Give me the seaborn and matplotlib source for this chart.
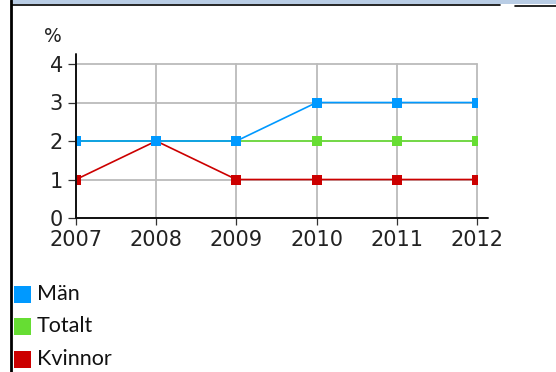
import matplotlib
matplotlib.use("Agg")
import matplotlib.pyplot as plt
from matplotlib.patches import Rectangle
from matplotlib.lines import Line2D
import seaborn as sns
import pandas as pd

years = [2007, 2008, 2009, 2010, 2011, 2012]
man = [2, 2, 2, 3, 3, 3]
totalt = [2, 2, 2, 2, 2, 2]
kvinnor = [1, 2, 1, 1, 1, 1]
y_ticks = [0, 1, 2, 3, 4]

series_names = ["Män", "Totalt", "Kvinnor"]
series_colors = ["#0099FF", "#66DD33", "#CC0000"]
draw_order = ["Totalt", "Kvinnor", "Män"]

df = pd.concat([
    pd.DataFrame({"year": years, "value": man, "group": "Män"}),
    pd.DataFrame({"year": years, "value": totalt, "group": "Totalt"}),
    pd.DataFrame({"year": years, "value": kvinnor, "group": "Kvinnor"}),
], ignore_index=True)

sns.set_style("white")
plt.rcParams["font.family"] = ["DejaVu Sans"]

W, H = 556, 372
fig = plt.figure(figsize=(W / 100, H / 100), dpi=100)

def fx(px):
    return px / W

def fy(py):
    return 1 - py / H

x0, x1, y0, y1 = 76, 477, 218, 64
ax = fig.add_axes([fx(x0), fy(y0), fx(x1 - x0), (y0 - y1) / H])

palette = dict(zip(series_names, series_colors))
sns.lineplot(data=df, x="year", y="value", hue="group", hue_order=draw_order,
             palette=palette, marker="s", markersize=7.5, markeredgewidth=0,
             linewidth=1.2, legend=False, ax=ax)

ax.set_xlim(years[0], years[-1])
ax.set_ylim(y_ticks[0], y_ticks[-1])
ax.set_xticks(years)
ax.set_xticklabels([str(y) for y in years])
ax.set_yticks(y_ticks)
ax.set_yticklabels([str(v) for v in y_ticks])
ax.set_xlabel("")
ax.set_ylabel("")

ax.set_axisbelow(True)
ax.grid(True, color="#BBBBBB", linewidth=1.3)
for gl in ax.get_xgridlines() + ax.get_ygridlines():
    gl.set_clip_on(False)
for sp in ax.spines.values():
    sp.set_visible(False)

ax.tick_params(axis="y", which="major", left=True, length=6, width=0.9,
               color="#333333", pad=3.5, labelsize=15, labelcolor="#222222")
ax.tick_params(axis="x", which="major", bottom=True, length=5, width=0.9,
               color="#333333", pad=4, labelsize=15, labelcolor="#222222")

# axis lines extending beyond the last grid lines
ax.add_line(Line2D([0, 1.028], [0, 0], transform=ax.transAxes, color="#111111",
                   linewidth=1.4, clip_on=False, zorder=5))
ax.add_line(Line2D([0, 0], [0, 1.065], transform=ax.transAxes, color="#111111",
                   linewidth=1.4, clip_on=False, zorder=5))

fig.text(fx(53), fy(36), "%", ha="center", va="center", fontsize=13.5,
         color="#222222")

# legend entries
leg_y = [294, 326, 359]
for name, color, yc in zip(series_names, series_colors, leg_y):
    fig.add_artist(Rectangle((fx(14), fy(yc + 8.5)), fx(17), 17 / H,
                             facecolor=color, edgecolor="none",
                             transform=fig.transFigure))
    fig.text(fx(37), fy(yc), name, ha="left", va="center", fontsize=15.5,
             family=["Lato", "DejaVu Sans"], color="#111111")

# frame
fig.add_artist(Rectangle((fx(12), fy(4)), 1, 4 / H, facecolor="#B9CDE5",
                         edgecolor="none", transform=fig.transFigure))
fig.add_artist(Line2D([fx(12), fx(500)], [fy(4.5), fy(4.5)], color="black",
                      linewidth=1.2, transform=fig.transFigure))
fig.add_artist(Line2D([fx(515), 1], [fy(5.5), fy(5.5)], color="black",
                      linewidth=1.2, transform=fig.transFigure))
fig.add_artist(Line2D([fx(11), fx(11)], [0, 1], color="black",
                      linewidth=2, transform=fig.transFigure))

fig.savefig("out.png", dpi=100)
